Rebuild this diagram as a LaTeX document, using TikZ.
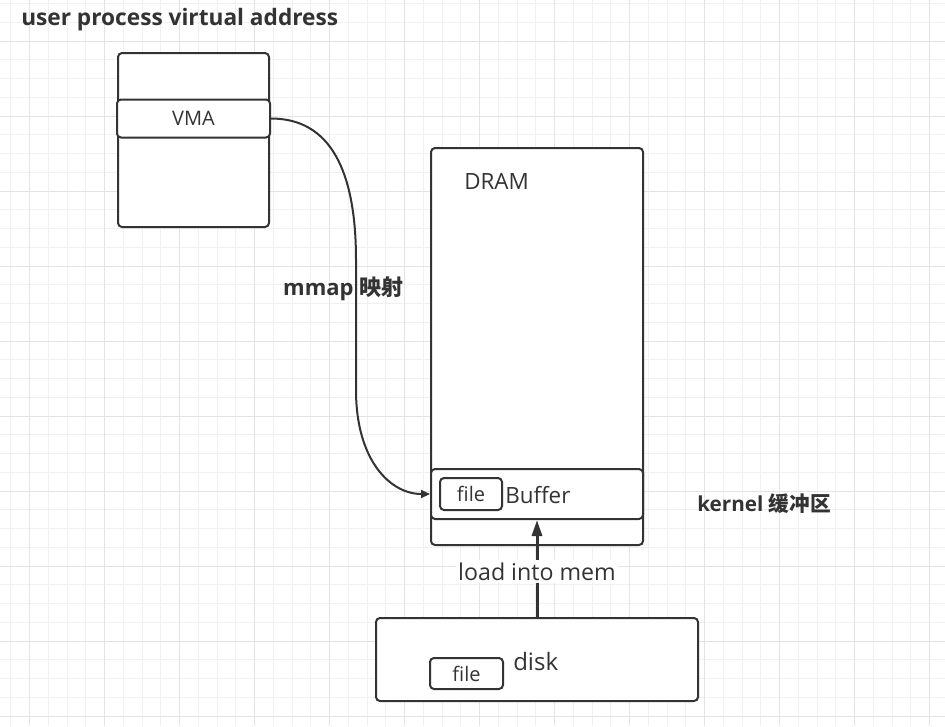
\documentclass[tikz,border=0pt]{standalone}
\usepackage{fontspec}
\setmainfont{Open Sans}
\newfontfamily\cjk{Noto Sans CJK SC}
\usetikzlibrary{arrows.meta}
\definecolor{ink}{HTML}{333333}
\definecolor{gridminor}{HTML}{F0F0F0}
\definecolor{gridmajor}{HTML}{E3E3E3}
\tikzset{
  box/.style={draw=ink, line width=1.5pt, rounded corners=3pt, fill=white, inner sep=0pt, text=ink},
  txt/.style={text=ink, inner sep=0pt},
  lbl/.style={txt, font=\bfseries\fontsize{16.5pt}{19pt}\selectfont},
  conn/.style={draw=ink, line width=1.5pt},
}
\begin{document}
\begin{tikzpicture}[x=0.75pt, y=-0.75pt]
\useasboundingbox (0,0) rectangle (945,726);
\fill[white] (0,0) rectangle (945,726);
% grid
\foreach \i in {0,...,49} \draw[gridminor, line width=0.75pt] ({10.95+18.75*\i},0) -- ({10.95+18.75*\i},726);
\foreach \i in {0,...,38} \draw[gridminor, line width=0.75pt] (0,{3.5+18.75*\i}) -- (945,{3.5+18.75*\i});
\foreach \i in {0,...,12} \draw[gridmajor, line width=0.75pt] ({29.7+75*\i},0) -- ({29.7+75*\i},726);
\foreach \i in {0,...,9} \draw[gridmajor, line width=0.75pt] (0,{41+75*\i}) -- (945,{41+75*\i});

% title
\node[lbl, anchor=base west, font=\bfseries\fontsize{17pt}{20pt}\selectfont] (title) at (21,25) {user process virtual address};

% user process box
\node[box, minimum width=113.25pt, minimum height=130.5pt] (user) at (193.5,140) {};
\node[box, minimum width=114.75pt, minimum height=28.5pt, font=\fontsize{15pt}{18pt}\selectfont] (vma) at (193.5,118.5) {VMA};

% DRAM
\node[box, minimum width=159pt, minimum height=297.75pt] (dram) at (537,346.5) {};
\node[txt, anchor=base west, font=\fontsize{16.8pt}{20pt}\selectfont] (dramtxt) at (464,189) {DRAM};
\node[box, minimum width=159pt, minimum height=37.5pt] (buf) at (537,494) {};
\node[box, minimum width=46.5pt, minimum height=24pt, font=\fontsize{15pt}{18pt}\selectfont] (file1) at (471,494) {file};
\node[txt, anchor=base west, font=\fontsize{16.8pt}{20pt}\selectfont] (buftxt) at (505,503.3) {Buffer};

% kernel label
\node[lbl, anchor=base west, font=\bfseries\fontsize{15.5pt}{18pt}\selectfont] (kern) at (697,511.7) {kernel {\cjk 缓冲区}};

% disk
\node[box, minimum width=241.5pt, minimum height=62.25pt] (disk) at (537,659.5) {};
\node[box, minimum width=54.75pt, minimum height=23.25pt, font=\fontsize{15pt}{18pt}\selectfont] (file2) at (466.5,673.5) {file};
\node[txt, anchor=base west, font=\fontsize{18pt}{21pt}\selectfont] (disktxt) at (513,670) {disk};

% mmap curve
\draw[conn, -{Triangle[length=6.75pt, width=6pt]}] (vma.east) .. controls (330,118.5) and (356,170) .. (356,260) -- (356,390) .. controls (356,460) and (390,494) .. (buf.west);
\node[lbl, anchor=base] (mmap) at (343.3,295) {mmap {\cjk 映射}};

% load arrow
\draw[draw=ink, line width=2.25pt, -{Triangle[length=12pt, width=7.5pt]}] (disk.north) -- (buf.south)
  node[pos=0.47, fill=white, text=ink, inner sep=2pt, font=\fontsize{17.4pt}{20pt}\selectfont] (load) {load into mem};
\end{tikzpicture}
\end{document}
